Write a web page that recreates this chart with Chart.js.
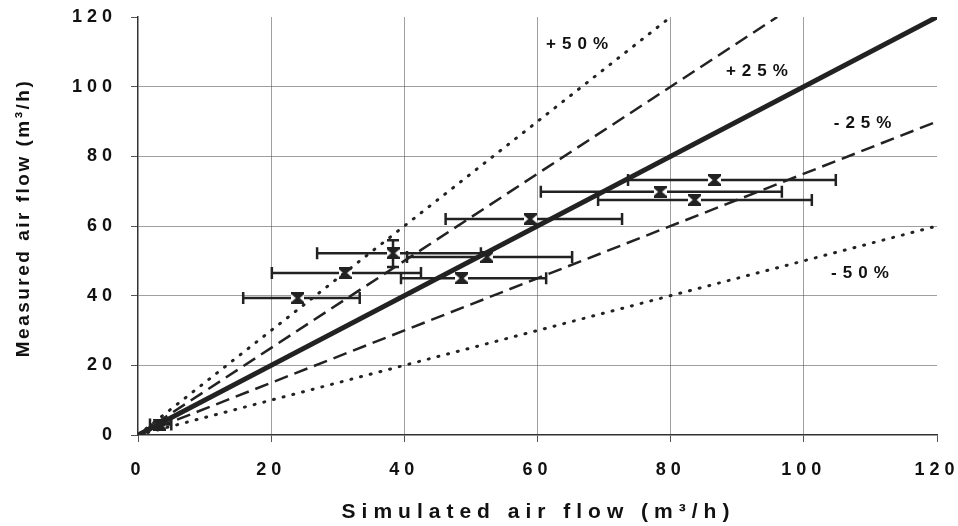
<!DOCTYPE html>
<html>
<head>
<meta charset="utf-8">
<script src="https://cdn.jsdelivr.net/npm/chart.js@4.4.1/dist/chart.umd.min.js"></script>
<style>
  html, body { margin: 0; padding: 0; background: #fff; }
  #wrap { width: 958px; height: 526px; }
</style>
</head>
<body>
<div id="wrap"><canvas id="airflow" width="958" height="526"></canvas></div>
<script>
// simulated vs measured air flow, m3/h
const simulated = [3.3, 24.0, 31.1, 38.3, 52.4, 48.6, 58.9, 78.4, 83.6, 86.6];
const measured  = [3.0, 39.3, 46.5, 52.2, 51.1, 45.0, 62.0, 69.8, 67.5, 73.2];
// horizontal error bars (simulated range)
const simLow  = [1.8, 15.8, 20.1, 26.9, 40.4, 39.5, 46.2, 60.5, 69.1, 73.6];
const simHigh = [5.0, 33.3, 42.5, 51.5, 65.2, 61.3, 72.7, 96.7, 101.2, 104.8];
// vertical error bars (measured range), only where drawn
const measLow  = [null, null, null, 48.2, null, null, null, null, null, null];
const measHigh = [null, null, null, 55.9, null, null, null, null, null, null];

// reference lines: end points of y = x and the +/-25 %, +/-50 % limits
const lineEqual   = { x: [0, 120], y: [0, 120] };
const linePlus25  = { x: [0, 96],  y: [0, 120] };
const linePlus50  = { x: [0, 80],  y: [0, 120] };
const lineMinus25 = { x: [0, 120], y: [0, 90] };
const lineMinus50 = { x: [0, 120], y: [0, 60] };

const axisTicks = [0, 20, 40, 60, 80, 100, 120];

const lineLabels = [
  { text: '+50%', x: 66.4, y: 112.3 },
  { text: '+25%', x: 93.4, y: 104.5 },
  { text: '-25%', x: 109.6, y: 89.4 },
  { text: '-50%', x: 109.2, y: 46.5 }
];

const FONT = '"Liberation Sans", Arial, sans-serif';
const INK = '#222';

function toPoints(l) {
  return l.x.map((v, i) => ({ x: v, y: l.y[i] }));
}

// little hourglass marker
function makeMarker() {
  const c = document.createElement('canvas');
  c.width = 13; c.height = 12;
  const g = c.getContext('2d');
  g.fillStyle = INK;
  g.fillRect(0, 0, 13, 12);
  g.fillStyle = '#fff';
  g.beginPath(); g.moveTo(0, 2); g.lineTo(4.5, 6); g.lineTo(0, 10); g.fill();
  g.beginPath(); g.moveTo(13, 2); g.lineTo(8.5, 6); g.lineTo(13, 10); g.fill();
  return c;
}
const marker = makeMarker();

function spacing(chart) {
  chart.ctx.letterSpacing = '5px';
}

const errorBars = {
  id: 'errorBars',
  beforeDatasetDraw(chart, args) {
    if (args.index !== 5) return;
    const ctx = chart.ctx, xs = chart.scales.x, ys = chart.scales.y;
    ctx.save();
    ctx.strokeStyle = INK;
    ctx.lineWidth = 2.5;
    for (let i = 0; i < simulated.length; i++) {
      const yp = ys.getPixelForValue(measured[i]);
      const x1 = xs.getPixelForValue(simLow[i]);
      const x2 = xs.getPixelForValue(simHigh[i]);
      ctx.beginPath();
      ctx.moveTo(x1, yp); ctx.lineTo(x2, yp);
      ctx.moveTo(x1, yp - 6); ctx.lineTo(x1, yp + 6);
      ctx.moveTo(x2, yp - 6); ctx.lineTo(x2, yp + 6);
      if (measLow[i] != null) {
        const xp = xs.getPixelForValue(simulated[i]);
        const y1 = ys.getPixelForValue(measLow[i]);
        const y2 = ys.getPixelForValue(measHigh[i]);
        ctx.moveTo(xp, y1); ctx.lineTo(xp, y2);
        ctx.moveTo(xp - 6, y1); ctx.lineTo(xp + 6, y1);
        ctx.moveTo(xp - 6, y2); ctx.lineTo(xp + 6, y2);
      }
      ctx.stroke();
    }
    ctx.restore();
  }
};

const textLayer = {
  id: 'textLayer',
  beforeUpdate: spacing,
  beforeDraw: spacing,
  afterDraw(chart) {
    const ctx = chart.ctx, xs = chart.scales.x, ys = chart.scales.y, a = chart.chartArea;
    ctx.save();
    ctx.fillStyle = '#111';
    ctx.textBaseline = 'middle';
    ctx.textAlign = 'left';
    ctx.letterSpacing = '6px';
    ctx.font = 'bold 17px ' + FONT;
    lineLabels.forEach(l => {
      ctx.fillText(l.text, xs.getPixelForValue(l.x) - 34, ys.getPixelForValue(l.y));
    });
    // axis titles
    ctx.textAlign = 'center';
    ctx.font = 'bold 21px ' + FONT;
    ctx.letterSpacing = '6px';
    ctx.fillText('Simulated air flow (m³/h)', (a.left + a.right) / 2 + 1, 512);
    ctx.translate(24, (a.top + a.bottom) / 2 - 8);
    ctx.rotate(-Math.PI / 2);
    ctx.font = 'bold 19px ' + FONT;
    ctx.letterSpacing = '2.5px';
    ctx.fillText('Measured air flow (m³/h)', 0, 0);
    ctx.restore();
  }
};

function gridColor(c) {
  const v = c.tick ? c.tick.value : null;
  return (v === 0 || v === 120) ? 'rgba(0,0,0,0)' : 'rgba(80,80,80,0.55)';
}

function axis(pos) {
  return {
    type: 'linear',
    position: pos,
    min: 0,
    max: 120,
    afterBuildTicks: s => { s.ticks = axisTicks.map(v => ({ value: v })); },
    grid: {
      color: gridColor,
      tickColor: '#555',
      lineWidth: 1,
      tickLength: 7,
      drawTicks: true
    },
    border: { display: true, color: '#333', width: 1.5, dash: [] },
    ticks: {
      color: '#111',
      font: { family: FONT, size: 18, weight: 'bold' },
      padding: pos === 'left' ? 14 : 17
    }
  };
}

const xAxis = axis('bottom');
xAxis.afterFit = s => { s.height = 91; s.paddingLeft = 0; s.paddingRight = 0; };
const yAxis = axis('left');
yAxis.afterFit = s => { s.width = 138; s.paddingTop = 0; s.paddingBottom = 0; };

function guide(data, width, dash) {
  return {
    type: 'line',
    data: toPoints(data),
    borderColor: INK,
    borderWidth: width,
    borderDash: dash,
    borderCapStyle: dash.length && dash[0] < 4 ? 'round' : 'butt',
    pointRadius: 0,
    fill: false,
    tension: 0
  };
}

new Chart(document.getElementById('airflow'), {
  type: 'scatter',
  data: {
    datasets: [
      guide(lineEqual, 5, []),
      guide(linePlus25, 2.5, [14, 7]),
      guide(linePlus50, 3, [1, 9]),
      guide(lineMinus25, 2.5, [14, 7]),
      guide(lineMinus50, 3, [1, 9]),
      {
        type: 'scatter',
        data: simulated.map((v, i) => ({ x: v, y: measured[i] })),
        pointStyle: marker,
        pointRadius: 6
      }
    ]
  },
  options: {
    responsive: false,
    animation: false,
    layout: { padding: { top: 17, right: 21, left: 0, bottom: 0 } },
    plugins: {
      legend: { display: false },
      tooltip: { enabled: false }
    },
    scales: { x: xAxis, y: yAxis }
  },
  plugins: [errorBars, textLayer]
});
</script>
</body>
</html>
